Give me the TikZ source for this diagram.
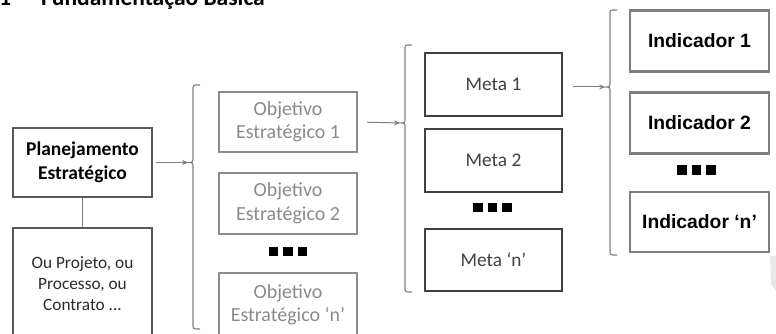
\documentclass[tikz,border=0pt]{standalone}
\usepackage{fontspec}
\setmainfont{Carlito}
\newfontfamily\arialfont{Liberation Sans}
\usetikzlibrary{arrows.meta}

\definecolor{edgedark}{HTML}{595959}
\definecolor{edgemeta}{HTML}{404040}
\definecolor{edgeobj}{HTML}{8C8C8C}
\definecolor{edgeind}{HTML}{7F7F7F}
\definecolor{textobj}{HTML}{8A8A8A}
\definecolor{textmeta}{HTML}{404040}
\definecolor{textou}{HTML}{2B2B2B}
\definecolor{linegray}{HTML}{808080}
\definecolor{pagegray}{HTML}{E8E8E8}

\begin{document}
\begin{tikzpicture}[x=1pt,y=-1pt,
  box/.style={draw, line width=2pt, inner sep=0pt, align=center},
  planbox/.style={box, draw=edgedark, text=black,
    font=\fontsize{19.5}{24}\selectfont\bfseries,
    minimum width=139pt},
  oubox/.style={box, draw=edgedark, text=textou,
    font=\fontsize{17.3}{21}\selectfont, minimum width=139pt},
  objbox/.style={box, draw=edgeobj, text=textobj,
    font=\fontsize{20}{23.5}\selectfont,
    minimum width=138pt},
  metabox/.style={box, draw=edgemeta, text=textmeta,
    font=\fontsize{19.3}{23}\selectfont,
    minimum width=137pt, minimum height=63pt},
  indbox/.style={box, line width=2.4pt, draw=edgeind, text=black,
    font=\fontsize{19.3}{22}\selectfont\arialfont\bfseries,
    minimum width=139pt, minimum height=61pt},
  sq/.style={fill=black, inner sep=0pt, minimum size=9.5pt},
  link/.style={draw=linegray, line width=1pt},
  conn/.style={link, -{Stealth[length=6.5pt,width=5pt]}, shorten <=3pt},
  bracket/.style={draw=linegray, line width=1.1pt, rounded corners=2.5pt},
]
\useasboundingbox (0,0) rectangle (776,334);
\clip (0,0) rectangle (776,334);

% section heading, cut by the top edge
\node[anchor=base west, inner sep=0pt, font=\fontsize{23.5}{28}\selectfont\bfseries]
  (numhead) at (-1,5.5) {1};
\node[anchor=base west, inner sep=0pt, font=\fontsize{23.5}{28}\selectfont\bfseries]
  (head) at (41,5.5) {Fundamentação Básica};

% left column
\node[planbox, minimum height=68pt] (PE) at (82.5,162.5) {Planejamento\\Estratégico};
\node[oubox, minimum height=112pt] (OU) at (82.5,284) {Ou Projeto, ou\\Processo, ou\\Contrato ...};
\draw[link] (PE) -- (OU);

% strategic objectives
\node[objbox, minimum height=60pt] (O1) at (288,122) {Objetivo\\Estratégico 1};
\node[objbox, minimum height=61pt] (O2) at (288,203.5) {Objetivo\\Estratégico 2};
\node[objbox, minimum height=64pt] (On) at (288,305) {Objetivo\\Estratégico ‘n’};
\node[sq] (od1) at (273.5,251.5) {};
\node[sq] (od2) at (288,251.5) {};
\node[sq] (od3) at (302.5,251.5) {};

% goals
\node[metabox] (M1) at (493.5,84.5) {Meta 1};
\node[metabox] (M2) at (493.5,160.5) {Meta 2};
\node[metabox, minimum height=62pt] (Mn) at (493.5,260) {Meta ‘n’};
\node[sq] (md1) at (478,207.5) {};
\node[sq] (md2) at (492.5,207.5) {};
\node[sq] (md3) at (507,207.5) {};

% indicators
\node[indbox] (I1) at (699.5,41) {Indicador 1};
\node[indbox] (I2) at (699.5,123) {Indicador 2};
\node[indbox, minimum height=60pt] (In) at (699.5,222) {Indicador ‘n’};
\node[sq] (id1) at (682,170) {};
\node[sq] (id2) at (696.5,170) {};
\node[sq] (id3) at (711,170) {};

% brackets gathering each column
\coordinate (b1) at (188.5,162.5);
\coordinate (b2) at (400.5,123);
\coordinate (b3) at (605.5,87);
\draw[bracket] (200,85) -- (193,85) -- (193,162.5) -- (b1) -- (193,162.5) -- (193,329) -- (200,329);
\draw[bracket] (412,45) -- (405,45) -- (405,123) -- (b2) -- (405,123) -- (405,292) -- (412,292);
\draw[bracket] (617,10) -- (610,10) -- (610,87) -- (b3) -- (610,87) -- (610,255) -- (617,255);

% arrows into the brackets
\draw[conn] (PE.east) -- (b1);
\draw[conn, shorten <=9pt] (O1.east) -- (b2);
\draw[conn, shorten <=10pt] (M1.east |- b3) -- (b3);

% page edge showing at the right
\fill[pagegray] (770,256) -- (776,256) -- (776,291) -- (771,284) -- cycle;
\end{tikzpicture}
\end{document}
